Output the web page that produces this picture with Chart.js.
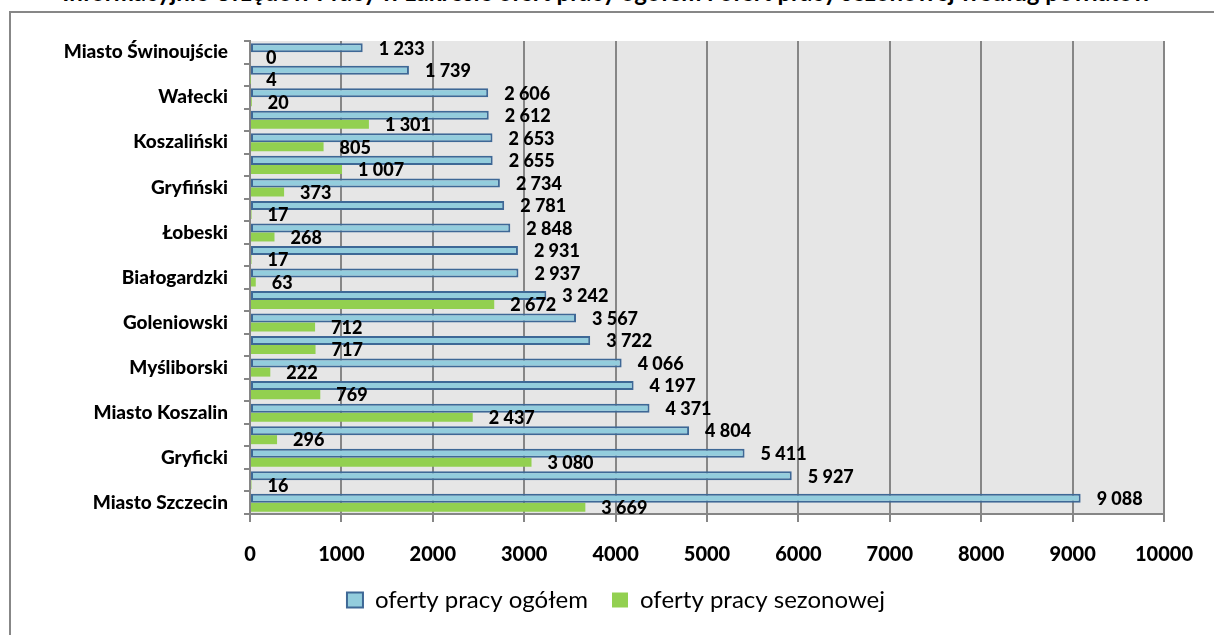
<!DOCTYPE html>
<html>
<head>
<meta charset="utf-8">
<script src="https://cdn.jsdelivr.net/npm/chart.js@4"></script>
<style>
  html,body{margin:0;padding:0;background:#fff;overflow:hidden}
  #wrap{position:relative;width:1214px;height:635px;overflow:hidden}
  #frame{position:absolute;left:9px;top:11px;width:1300px;height:700px;border:2px solid #878787;box-sizing:border-box}
  #title{position:absolute;left:0;width:1214px;top:-23px;line-height:24px;text-align:center;font:bold 24px Lato,sans-serif;white-space:nowrap;color:#000}
  canvas{position:absolute;left:0;top:0}
</style>
</head>
<body>
<div id="wrap">
  <div id="title">Informacyjnie Urzędów Pracy w zakresie ofert pracy ogółem i ofert pracy sezonowej według powiatów</div>
  <div id="frame"></div>
  <canvas id="bdChart" width="1214" height="635"></canvas>
</div>
<script>
var powiaty = ["Miasto Świnoujście","Świdwiński","Wałecki","Kamieński","Koszaliński","Sławieński","Gryfiński","Choszczeński","Łobeski","Pyrzycki","Białogardzki","Kołobrzeski","Goleniowski","Drawski","Myśliborski","Szczecinecki","Miasto Koszalin","Policki","Gryficki","Stargardzki","Miasto Szczecin"]
var ofertyOgolem = [1233,1739,2606,2612,2653,2655,2734,2781,2848,2931,2937,3242,3567,3722,4066,4197,4371,4804,5411,5927,9088]
var ofertySezonowe = [0,4,20,1301,805,1007,373,17,268,17,63,2672,712,717,222,769,2437,296,3080,16,3669]
var xTicks = [0,1000,2000,3000,4000,5000,6000,7000,8000,9000,10000]

function fmt(v){
  return String(v).replace(/\B(?=(\d{3})+(?!\d))/g, ' ')
}

// szare tlo obszaru wykresu
var tlo = {
  id:'tlo',
  beforeDraw: function(c){
    var a = c.chartArea, ctx = c.ctx
    ctx.save()
    ctx.fillStyle = '#e6e6e6'
    ctx.fillRect(a.left, a.top, a.right-a.left, a.bottom-a.top)
    ctx.restore()
  }
}

// etykiety wartosci przy slupkach
var etykiety = {
  id:'etykiety',
  afterDatasetsDraw: function(c){
    var ctx = c.ctx
    ctx.save()
    ctx.font = '900 18px Lato'
    ctx.fillStyle = '#000'
    ctx.textAlign = 'left'
    ctx.textBaseline = 'middle'
    c.data.datasets.forEach(function(ds, i){
      c.getDatasetMeta(i).data.forEach(function(bar, j){
        ctx.fillText(fmt(ds.data[j]), bar.x + 16, bar.y + 1)
      })
    })
    ctx.restore()
  }
}

window.addEventListener('load', chart)

function chart(){
  new Chart(document.getElementById("bdChart"), {
    type: 'bar',
    data: {
      labels: powiaty,
      datasets: [
        {
          label: "oferty pracy ogółem",
          data: ofertyOgolem,
          backgroundColor: "#93cddd",
          borderColor: "#3e6896",
          borderWidth: 2,
          borderSkipped: false
        },
        {
          label: "oferty pracy sezonowej",
          data: ofertySezonowe,
          backgroundColor: "#92d050",
          borderWidth: 0
        }
      ]
    },
    options: {
      indexAxis: 'y',
      responsive: false,
      animation: false,
      categoryPercentage: 0.8,
      barPercentage: 1.0,
      layout: { padding: { left: 65, right: 47, top: 41, bottom: 13 } },
      plugins: {
        legend: {
          display: true,
          position: 'bottom',
          labels: {
            color: '#000',
            font: { family: 'Lato', size: 24 },
            boxWidth: 16,
            boxHeight: 15,
            padding: 24
          }
        },
        tooltip: { enabled: false }
      },
      scales: {
        x: {
          min: 0,
          max: 10000,
          afterBuildTicks: function(s){ s.ticks = xTicks.map(function(v){ return {value:v} }) },
          afterFit: function(s){ s.height = 50 },
          grid: { color: '#868686', lineWidth: 2, tickLength: 8 },
          border: { color: '#868686', width: 2 },
          ticks: {
            color: '#000',
            font: { family: 'Lato', size: 20, weight: '900' },
            padding: 21,
            callback: function(v){ return String(v) }
          }
        },
        y: {
          afterFit: function(s){ s.width = 185 },
          grid: { offset: true, drawOnChartArea: false, color: '#868686', lineWidth: 2, tickLength: 6 },
          border: { color: '#868686', width: 2 },
          ticks: {
            autoSkip: false,
            color: '#000',
            font: { family: 'Lato', size: 19, weight: '900' },
            padding: 16,
            callback: function(v, i){ return i % 2 == 0 ? this.getLabelForValue(v) : '' }
          }
        }
      }
    },
    plugins: [tlo, etykiety]
  })
}
</script>
</body>
</html>
